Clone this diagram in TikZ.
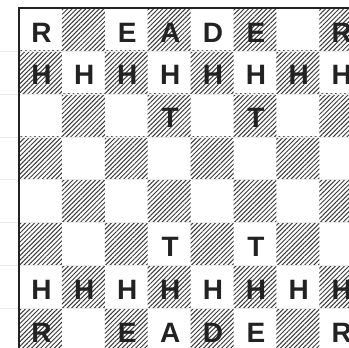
\documentclass[tikz,border=0pt]{standalone}
\usepackage{fontspec}
\setmainfont{Liberation Sans}
\usetikzlibrary{patterns.meta}
\definecolor{ink}{HTML}{222222}
\definecolor{hatchc}{HTML}{3a3a3a}
\begin{document}
\begin{tikzpicture}[x=1pt,y=-1pt,
  hatch/.style={pattern={Lines[angle=45,distance=3.2pt,line width=1pt]},pattern color=hatchc},
  piece/.style={font=\fontsize{28}{28}\selectfont\bfseries,text=ink,inner sep=0pt,anchor=center},
  faint/.style={draw=black!8,line width=0.4pt},
  frame/.style={draw=ink,line width=1.6pt}]
\useasboundingbox (0,0) rectangle (349,348);
\clip (0,0) rectangle (349,348);
\def\s{42.9}
% squares
\foreach \r in {1,...,8}{
  \foreach \c in {1,...,8}{
    \pgfmathtruncatemacro\odd{mod(\r+\c,2)}
    \ifnum\odd=1
      \fill[hatch] ({19+(\c-1)*\s},{8+(\r-1)*\s}) rectangle ++(\s,\s);
    \fi
  }
}
% faint row lines
\foreach \r in {1,...,7}{
  \draw[faint] (0,{8+\r*\s}) -- (349,{8+\r*\s});
}
% frame
\draw[frame] (19,8) rectangle ({19+8*\s},{8+8*\s});
% pieces
\foreach \r/\row in {1/{R,,E,A,D,E,,R},2/{H,H,H,H,H,H,H,H},3/{,,,T,,T,,},6/{,,,T,,T,,},7/{H,H,H,H,H,H,H,H},8/{R,,E,A,D,E,,R}}{
  \foreach \p [count=\c] in \row {
    \node[piece] (p-\r-\c) at ({19+(\c-0.5)*\s+1},{8+(\r-0.5)*\s+3}) {\p};
  }
}
\end{tikzpicture}
\end{document}
